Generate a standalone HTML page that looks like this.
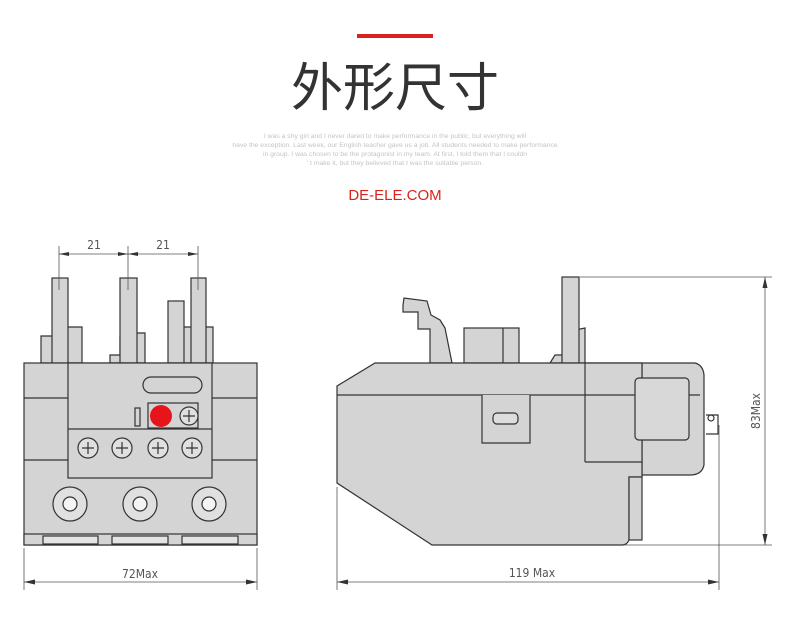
<!DOCTYPE html>
<html><head><meta charset="utf-8"><style>
body{margin:0;background:#fff;width:790px;height:629px;overflow:hidden}
svg{display:block}
</style></head><body>
<svg width="790" height="629" viewBox="0 0 790 629" font-family="Liberation Sans, Noto Sans CJK SC, sans-serif">
<rect x="357" y="34" width="76" height="4" fill="#d9221d"/>
<text x="395" y="106" text-anchor="middle" font-size="52" fill="#333" font-family="Liberation Sans, Noto Sans CJK SC, sans-serif" font-weight="400">外形尺寸</text>
<g font-size="6.8" fill="#c4c4c4" text-anchor="middle">
<text x="395" y="138">I was a shy girl and I never dared to make performance in the public, but everything will</text>
<text x="395" y="147">have the exception. Last week, our English teacher gave us a job. All students needed to make performance</text>
<text x="395" y="156">in group. I was chosen to be the protagonist in my team. At first, I told them that I couldn</text>
<text x="395" y="165">' t make it, but they believed that I was the suitable person.</text>
</g>
<text x="395" y="200" text-anchor="middle" font-size="15" fill="#d9221d">DE-ELE.COM</text>

<g stroke="#333" stroke-width="1.2" fill="#d4d4d4">
<path d="M41 363 V336 H56 V327 H82 V363 Z"/>
<path d="M110 363 V355 H120 V337 H135 V333 H145 V363 Z"/>
<path d="M171 363 V325 H180 V327 H213 V363 Z"/>
<rect x="168" y="301" width="16" height="62"/>
<rect x="52" y="278" width="16" height="85"/>
<rect x="120" y="278" width="17" height="85"/>
<rect x="191" y="278" width="15" height="85"/>
<rect x="24" y="363" width="233" height="182"/>
<rect x="68" y="363" width="144" height="115"/>
<line x1="24" y1="398" x2="68" y2="398"/><line x1="24" y1="460" x2="68" y2="460"/>
<line x1="212" y1="398" x2="257" y2="398"/><line x1="212" y1="460" x2="257" y2="460"/>
<line x1="68" y1="429" x2="212" y2="429"/>
<rect x="143" y="377" width="59" height="16" rx="8"/>
<rect x="148" y="403" width="50" height="25"/>
<rect x="135" y="408" width="5" height="18"/>
<rect x="24" y="534" width="233" height="11"/>
<rect x="43" y="536" width="55" height="8" fill="#e4e4e4"/>
<rect x="112" y="536" width="56" height="8" fill="#e4e4e4"/>
<rect x="182" y="536" width="56" height="8" fill="#e4e4e4"/>
<g fill="#e0e0e0">
<circle cx="88" cy="448" r="10"/><circle cx="122" cy="448" r="10"/><circle cx="158" cy="448" r="10"/><circle cx="192" cy="448" r="10"/>
<circle cx="189" cy="416" r="9"/>
<circle cx="70" cy="504" r="17"/><circle cx="140" cy="504" r="17"/><circle cx="209" cy="504" r="17"/>
<circle cx="70" cy="504" r="7" fill="#f4f4f4"/><circle cx="140" cy="504" r="7" fill="#f4f4f4"/><circle cx="209" cy="504" r="7" fill="#f4f4f4"/>
</g>
<path d="M82 448h12M88 442v12M116 448h12M122 442v12M152 448h12M158 442v12M186 448h12M192 442v12M183 416h12M189 410v12" fill="none"/>
</g>
<circle cx="161" cy="416" r="11" fill="#e8141b"/>

<g stroke="#333" stroke-width="1.2" fill="#d4d4d4">
<path d="M403 305 L404 298 L427 301 L431 315 L440 320 L445 328 L452 363 H430 L430 329 L418 329 L418 312 L403 312 Z"/>
<rect x="464" y="328" width="55" height="35"/>
<line x1="503" y1="328" x2="503" y2="363"/>
<path d="M550 363 L555 355 L570 355 L570 337 L575 337 L575 330 L585 328 V363 Z"/>
<rect x="562" y="277" width="17" height="86"/>
<path d="M585 363 H695 Q703 365 704 375 V465 Q702 475 690 475 H642 V363 Z"/>
<path d="M375 363 H642 V462 H642 V477 H629 V540 Q627 545 622 545 H432 L337 483 V386 Z"/>
<line x1="585" y1="363" x2="585" y2="462"/>
<line x1="585" y1="462" x2="642" y2="462"/>
<line x1="337" y1="395" x2="700" y2="395"/>
<path d="M482 395 V443 H530 V395" fill="#d4d4d4"/>
<rect x="493" y="413" width="25" height="11" rx="4" fill="#ddd"/>
<rect x="635" y="378" width="54" height="62" rx="4" fill="#d8d8d8"/>
<rect x="629" y="477" width="13" height="63" fill="#d4d4d4"/>
<path d="M706 415 H718 V434 H706" fill="none"/>
<circle cx="711" cy="418" r="3" fill="none"/>
</g>

<g stroke="#555" stroke-width="0.8" fill="none">
<line x1="59" y1="246" x2="59" y2="290"/><line x1="128" y1="246" x2="128" y2="290"/><line x1="198" y1="246" x2="198" y2="290"/>
<line x1="59" y1="254" x2="198" y2="254"/>
<line x1="24" y1="548" x2="24" y2="590"/><line x1="257" y1="548" x2="257" y2="590"/>
<line x1="24" y1="582" x2="257" y2="582"/>
<line x1="337" y1="487" x2="337" y2="590"/><line x1="719" y1="425" x2="719" y2="590"/>
<line x1="337" y1="582" x2="719" y2="582"/>
<line x1="580" y1="277" x2="772" y2="277"/><line x1="625" y1="545" x2="772" y2="545"/>
<line x1="765" y1="277" x2="765" y2="545"/>
</g>
<g fill="#333">
<path d="M59 254l10-2v4zM128 254l-10-2v4zM128 254l10-2v4zM198 254l-10-2v4z"/>
<path d="M24 582l11-2.5v5zM257 582l-11-2.5v5z"/>
<path d="M337 582l11-2.5v5zM719 582l-11-2.5v5z"/>
<path d="M765 277l-2.5 11h5zM765 545l-2.5-11h5z"/>
</g>
<g font-size="12" fill="#555" font-family="DejaVu Sans Condensed, Liberation Sans, sans-serif">
<text x="94" y="249" text-anchor="middle">21</text>
<text x="163" y="249" text-anchor="middle">21</text>
<text x="140" y="578" text-anchor="middle">72Max</text>
<text x="532" y="577" text-anchor="middle">119 Max</text>
<text transform="translate(760 411) rotate(-90)" text-anchor="middle">83Max</text>
</g>
</svg>
</body></html>
